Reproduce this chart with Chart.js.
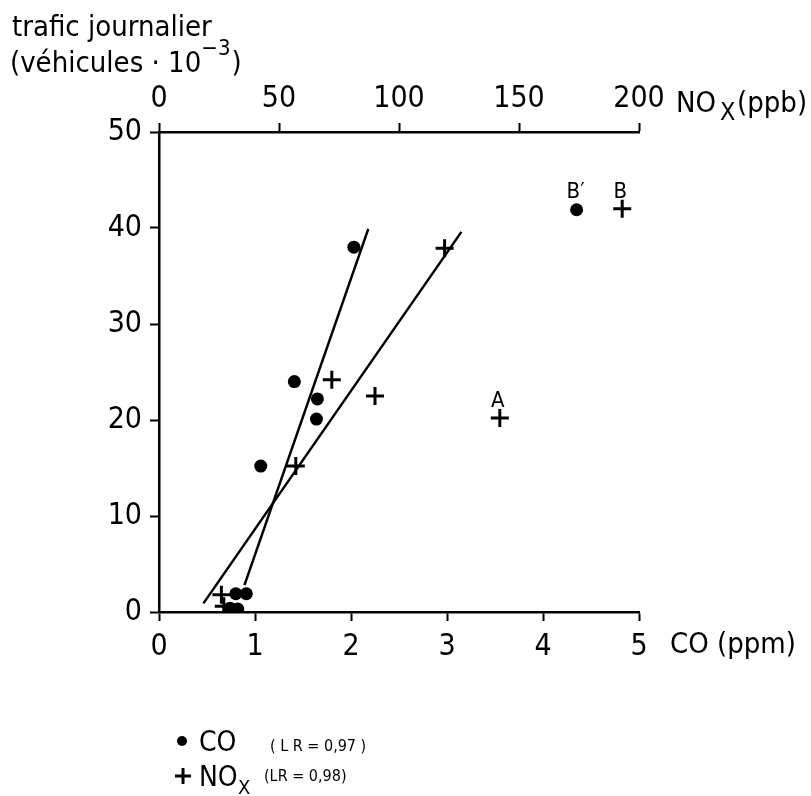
<!DOCTYPE html>
<html>
<head>
<meta charset="utf-8">
<script src="https://cdn.jsdelivr.net/npm/chart.js@4.4.1/dist/chart.umd.min.js"></script>
<style>
  html, body { margin: 0; padding: 0; background: #fff; }
  #wrap { width: 811px; height: 796px; }
</style>
</head>
<body>
<div id="wrap"><canvas id="c" width="811" height="796"></canvas></div>
<script>
// ---- data ----
const coX = [2.03, 1.41, 1.65, 1.64, 1.06, 0.80, 0.91, 0.74, 0.82];
const coY = [38.0, 24.0, 22.2, 20.1, 15.2, 1.9, 1.9, 0.4, 0.3];
const coOutlierX = [4.35];           // B'
const coOutlierY = [41.9];
const noxX = [119, 72, 90, 57, 26, 27];
const noxY = [37.9, 24.2, 22.5, 15.2, 1.8, 0.6];
const noxOutlierX = [142, 193];      // A, B
const noxOutlierY = [20.2, 42.0];
const outlierLabels = ["A", "B"];
const coFitX = [0.89, 2.18];
const coFitY = [2.8, 39.9];
const noxFitX = [18.5, 126];
const noxFitY = [0.9, 39.6];
const coTicks = [0, 1, 2, 3, 4, 5];
const noxTicks = [0, 50, 100, 150, 200];
const yTicks = [0, 10, 20, 30, 40, 50];

const FONT = "'DejaVu Sans Condensed', 'DejaVu Sans', sans-serif";
const pts = (xs, ys) => xs.map((x, i) => ({ x: x, y: ys[i] }));

const annot = {
  id: 'annot',
  afterDraw(chart) {
    const ctx = chart.ctx;
    const xs = chart.scales.x, x2 = chart.scales.x2, ys = chart.scales.y;
    ctx.save();
    ctx.fillStyle = '#000';
    ctx.textBaseline = 'alphabetic';
    // y title
    ctx.font = '29px ' + FONT;
    ctx.textAlign = 'left';
    ctx.fillText('trafic journalier', 12, 36);
    ctx.fillText('(véhicules · 10', 10, 72);
    const w = ctx.measureText('(véhicules · 10').width;
    ctx.font = '22px ' + FONT;
    ctx.fillText('−3', 10 + w, 55);
    const w2 = ctx.measureText('−3').width;
    ctx.font = '29px ' + FONT;
    ctx.fillText(')', 10 + w + w2 + 1, 72);
    // top axis title
    ctx.fillText('NO', 676, 112);
    ctx.font = '25px ' + FONT;
    ctx.fillText('X', 720, 120);
    ctx.font = '29px ' + FONT;
    ctx.fillText('(ppb)', 737, 112);
    // bottom axis title
    ctx.fillText('CO (ppm)', 670, 653);
    // outlier labels
    ctx.font = '22px ' + FONT;
    ctx.textAlign = 'center';
    ctx.fillText('B′', xs.getPixelForValue(coOutlierX[0]) - 1, ys.getPixelForValue(coOutlierY[0]) - 12);
    for (let i = 0; i < noxOutlierX.length; i++) {
      ctx.fillText(outlierLabels[i], x2.getPixelForValue(noxOutlierX[i]) - 2, ys.getPixelForValue(noxOutlierY[i]) - 11);
    }
    // legend
    ctx.textAlign = 'left';
    ctx.beginPath();
    ctx.arc(182, 741, 5, 0, Math.PI * 2);
    ctx.fill();
    ctx.font = '28px ' + FONT;
    ctx.fillText('CO', 199, 751);
    ctx.font = '16px ' + FONT;
    ctx.fillText('( L R = 0,97 )', 270, 751);
    ctx.lineWidth = 3;
    ctx.strokeStyle = '#000';
    ctx.beginPath();
    ctx.moveTo(175, 776); ctx.lineTo(191, 776);
    ctx.moveTo(183, 768); ctx.lineTo(183, 784);
    ctx.stroke();
    ctx.font = '28px ' + FONT;
    ctx.fillText('NO', 199, 786);
    ctx.font = '20px ' + FONT;
    ctx.fillText('X', 238, 794);
    ctx.font = '16px ' + FONT;
    ctx.fillText('(LR = 0,98)', 264, 781);
    ctx.restore();
  }
};

const axisCommon = {
  border: { display: true, color: '#000', width: 2.5 },
  grid: { display: true, drawOnChartArea: false, drawTicks: true, tickLength: 9, tickColor: '#000', tickWidth: 2 },
  ticks: { color: '#000', font: { family: FONT, size: 30 }, padding: 8, autoSkip: false, maxRotation: 0 }
};

new Chart(document.getElementById('c'), {
  type: 'scatter',
  data: {
    datasets: [
      { label: 'CO fit', data: pts(coFitX, coFitY), xAxisID: 'x', showLine: true, borderColor: '#000', borderWidth: 2.5, pointRadius: 0 },
      { label: 'NOx fit', data: pts(noxFitX, noxFitY), xAxisID: 'x2', showLine: true, borderColor: '#000', borderWidth: 2.5, pointRadius: 0 },
      { label: 'CO', data: pts(coX, coY).concat(pts(coOutlierX, coOutlierY)), xAxisID: 'x', pointStyle: 'circle', pointRadius: 6.5, backgroundColor: '#000', borderColor: '#000', borderWidth: 0 },
      { label: 'NOx', data: pts(noxX, noxY).concat(pts(noxOutlierX, noxOutlierY)), xAxisID: 'x2', pointStyle: 'cross', pointRadius: 9, borderColor: '#000', borderWidth: 3 }
    ]
  },
  options: {
    responsive: false,
    animation: false,
    events: [],
    layout: { padding: { left: 0, right: 172, top: 0, bottom: 0 } },
    plugins: { legend: { display: false }, tooltip: { enabled: false } },
    scales: {
      x: Object.assign({}, axisCommon, {
        type: 'linear', position: 'bottom', min: 0, max: 5,
        afterBuildTicks: s => { s.ticks = coTicks.map(v => ({ value: v })); },
        afterFit: s => { s.height = 184; }
      }),
      x2: Object.assign({}, axisCommon, {
        type: 'linear', position: 'top', min: 0, max: 200,
        ticks: Object.assign({}, axisCommon.ticks, { padding: 6 }),
        afterBuildTicks: s => { s.ticks = noxTicks.map(v => ({ value: v })); },
        afterFit: s => { s.height = 132; }
      }),
      y: Object.assign({}, axisCommon, {
        type: 'linear', position: 'left', min: 0, max: 50,
        afterBuildTicks: s => { s.ticks = yTicks.map(v => ({ value: v })); },
        afterFit: s => { s.width = 159; }
      })
    }
  },
  plugins: [annot]
});
</script>
</body>
</html>
